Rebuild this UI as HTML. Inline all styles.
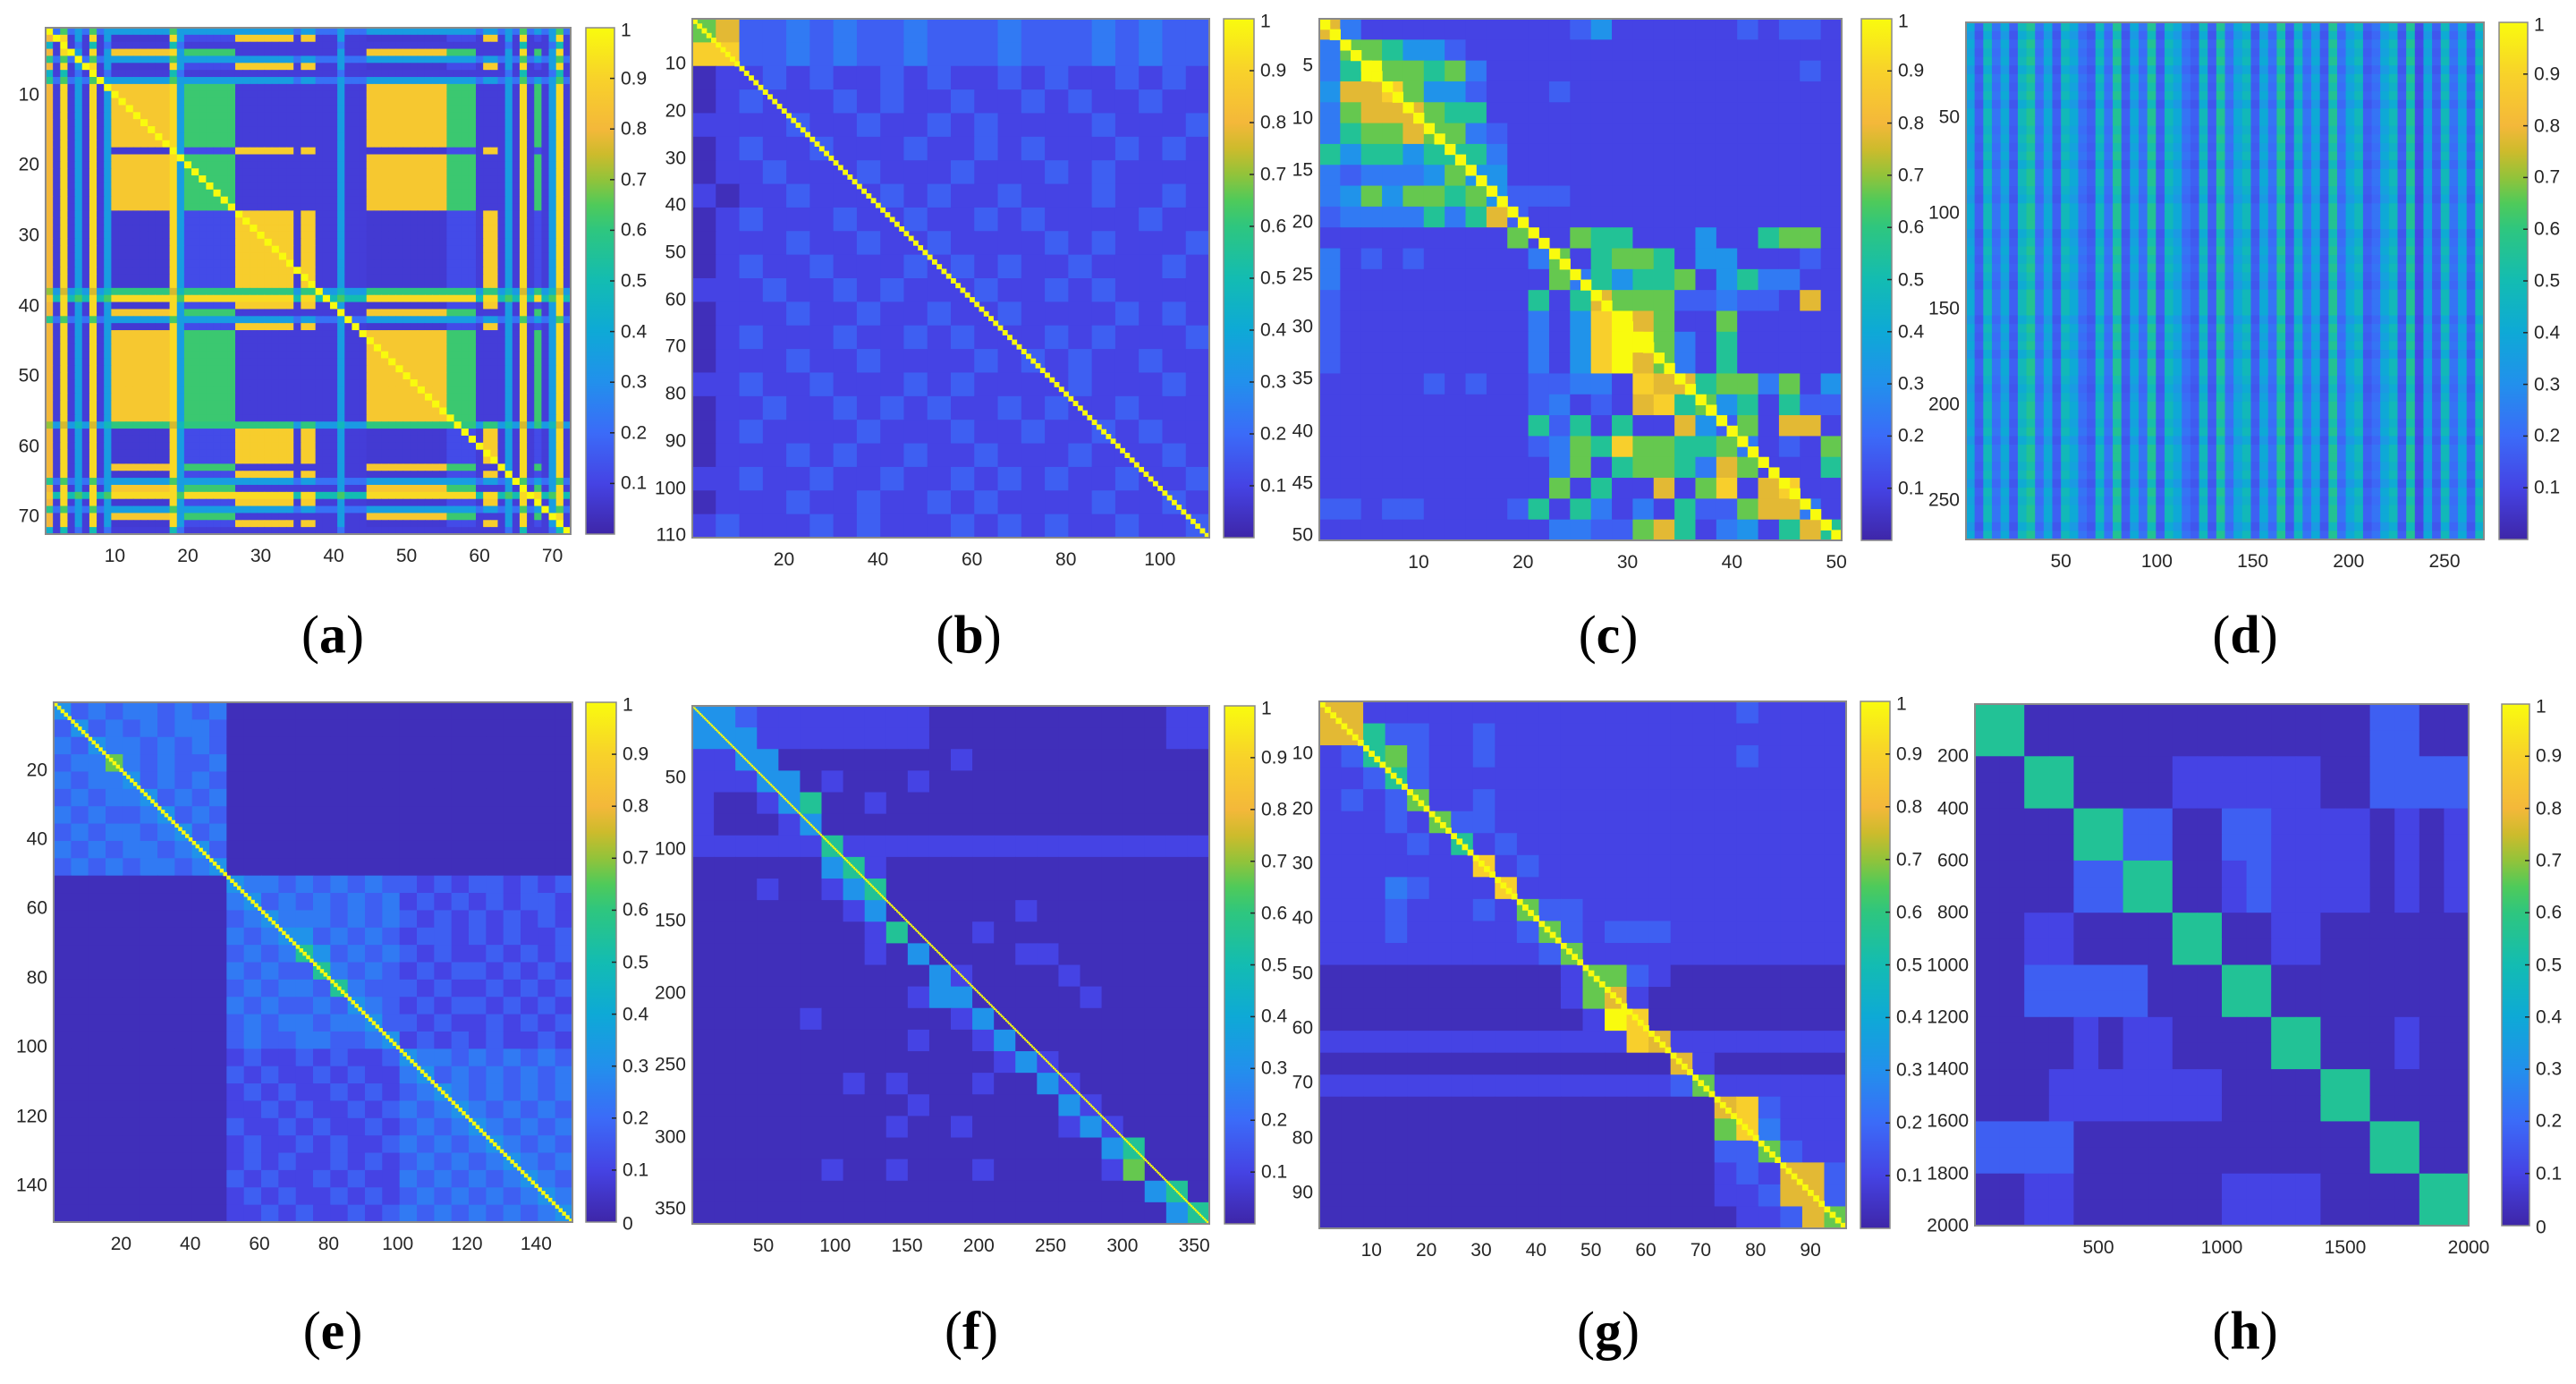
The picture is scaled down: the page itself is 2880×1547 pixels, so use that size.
<!DOCTYPE html>
<html><head><meta charset="utf-8">
<style>
html,body{margin:0;padding:0;background:#fff;}
#root{position:relative;width:2880px;height:1547px;overflow:hidden;background:#fff;font-family:"Liberation Sans",sans-serif;}
.tk{position:absolute;font-size:21px;color:#262626;white-space:nowrap;line-height:1;}
.cap{position:absolute;font-family:"Liberation Serif",serif;font-size:60px;color:#000;transform:translate(-50%,-50%);white-space:nowrap;}
.cap b{font-weight:bold;}
svg{position:absolute;overflow:visible;}
</style></head>
<body>
<div id="root"></div>
<script>
// ---------- colormap ----------
const parulaStops = [[0,'#3e26a8'],[0.1,'#4543e4'],[0.2,'#3b6bf8'],[0.3,'#2290ec'],[0.4,'#0ea9d6'],[0.5,'#13bcb2'],[0.6,'#2ec67f'],[0.65,'#4fca5a'],[0.7,'#92c33a'],[0.75,'#cdbb2c'],[0.8,'#f4b83a'],[0.9,'#f8d22a'],[1,'#f9fb0e']];
function hex2rgb(h){return [parseInt(h.substr(1,2),16),parseInt(h.substr(3,2),16),parseInt(h.substr(5,2),16)];}
function cmap(v){v=Math.max(0,Math.min(1,v));for(let i=1;i<parulaStops.length;i++){if(v<=parulaStops[i][0]){const a=parulaStops[i-1],b=parulaStops[i];const t=(v-a[0])/(b[0]-a[0]);const ca=hex2rgb(a[1]),cb=hex2rgb(b[1]);return 'rgb('+ca.map((x,k)=>Math.round(x+(cb[k]-x)*t)).join(',')+')';}}return parulaStops[parulaStops.length-1][1];}
function dig(ch){const d=parseInt(ch,10);if(isNaN(d))return 0.08;if(d===0)return 0.03;if(d<=4)return 0.03+d*0.07;return d/9;}

// ---------- data: panel a (class structure) ----------
const aColClasses = "onynsnyns"+"AAAAAAAA"+"y"+"s"+"GGGGGGG"+"BBBBBBBB"+"n"+"BB"+"nnn"+"s"+"nnn"+"AAAAAAAAAAA"+"GGGG"+"n"+"BB"+"nsnynGnsyn";
const aRowClasses = "sBnAsBns"+"AAAAAAAAA"+"B"+"AAAAAAAA"+"BBBBBBB"+"B"+"BBB"+"g"+"y"+"B"+"AsB"+"AAAAAAAAAAAAAg"+"BBBBB"+"ABsAyBsABn";
const aRowA = {A:0.86,G:0.62,B:0.08,n:0.08,s:0.35,y:0.92,o:0.8,g:0.6};
const aRowB = {A:0.07,G:0.12,B:0.88,n:0.08,s:0.35,y:0.92,o:0.8,g:0.6};
const aStripe = {s:0.35,g:0.6,y:0.92,o:0.8,n:0.08};

// ---------- data: panel b ----------
const bGrid = ["6722323223222322232322","8822323223222322232322","0112121121211212112121","0121112121121121211211","1111211211212111121112","0121121112112121112121","0112111211121112121111","1011211121211211121121","0121112112112121111211","0111211211211112121112","0121121112121211211121","1112112121112112121111","0111211211211211112121","0121112112121112121112","0111211211112121211211","1121121112121111211121","0112112121211212112111","0121111211121121121211","0111212112112111211121","1121121121121212112112","0111211211212111121121","1211121211121212112112"];
// ---------- data: panel c ----------
const cGrid = ["7311111111112411111121221","3665442111111111111111111","3596656311111111111111121","4778644211121111111111111","3677765511111111111111111","3566766321111111111111111","5455455531111111111111111","3233346441111111111111111","3464665642221111111111111","2333353572111111111111111","1111111116116551114115661","3121211111361566514411121","3111111111163545561453311","2111111111515766622322171","2111111111314897611611111","2111111111314899631511111","2111111111314897631511111","1111121211223318775663614","1111111111231217856451522","1111111111525151174261771","1111111111236586655631216","1111111111136156653761115","1111111111161511716817811","2212211112515313152267731","1111111111133226751341575"];
// ---------- data: panel d (column & row profiles) ----------
const dCols = "536453674536543647354736543637456354736453745634563725364536";
const dRows = "979897989799898979987999789898799979897998789989799897989979";
// ---------- data: panel e ----------
const eGrid = [
"4232332323"+"00000000000000000000","2423232332"+"00000000000000000000","3243323232"+"00000000000000000000","2336323223"+"00000000000000000000","3233423232"+"00000000000000000000","2323342323"+"00000000000000000000","3232234232"+"00000000000000000000","2323323423"+"00000000000000000000","3232332342"+"00000000000000000000","2323233234"+"00000000000000000000",
"0000000000"+"4332323232"+"2121221212","0000000000"+"3423232323"+"1212121221","0000000000"+"2343332323"+"2121212121","0000000000"+"3234423232"+"1221212112","0000000000"+"2323542323"+"2121121212","0000000000"+"3232253232"+"1212212121","0000000000"+"2323325322"+"2121121212","0000000000"+"3232232432"+"1212212121","0000000000"+"2323323342"+"2121121212","0000000000"+"2322332234"+"1212121121",
"0000000000"+"1211212112"+"4332323232","0000000000"+"2121121211"+"3423232323","0000000000"+"1212112121"+"2343232323","0000000000"+"1121211212"+"3234323232","0000000000"+"2112121121"+"2323432323","0000000000"+"1211212112"+"3232343232","0000000000"+"1212112121"+"2323234323","0000000000"+"2121121211"+"3232323432","0000000000"+"1212112121"+"2323232343","0000000000"+"1121211212"+"3232323234"];
// ---------- data: panel f ----------
const fGrid = ["442111111110000000000011","444111111110000000000011","114400000000100000000000","111440100010000000000000","100145001000000000000000","100014000000000000000000","111111511111111111111111","000000451000000000000000","000100145000000000000000","000000014000000100000000","000000001500010000000000","000000001040000110000000","000000000004100001000000","000000000014400000100000","000001000000140000000000","000000000010014000000000","000000000000001410000000","000000010100010041000000","000000000010000004100000","000000000100100001410000","000000000000000000045000","000000100100010000016000","000000000000000000000450","000000000000000000000045"];
// ---------- data: panel g ----------
const gGrid = ["771111111111111111121111","775221121111111111111111","125621121111111111121111","112521111111111111111111","121261121111111111111111","111216221111111111111111","111121512111111111111111","111111181211111111111111","111321118111111111111111","111211121622111111111111","111211111262122211111111","111111111126111111111111","000000000001662100000000","000000000001671000000000","000000000000198000000000","111111111111118711111111","000000000000000071000000","111111111111111126111111","000000000000000000782111","000000000000000000683111","000000000000000000226211","000000000000000000121772","000000000000000000112772","000000000000000000011276"];
// ---------- data: panel h ----------
const hGrid = ["55000000000000002200","55000000000000002200","00550000111111002222","00550000111111002222","00005522002211110101","00005522002211110101","00002255001211110101","00002255001211110101","00110000550011000000","00110000550011000000","00222220005500000000","00222220005500000000","00001011000055000100","00001011000055000100","00011111110000550000","00011111110000550000","22220000000000005500","22220000000000005500","00110000001111000055","00110000001111000055"];

const cbTicks = [0.1,0.2,0.3,0.4,0.5,0.6,0.7,0.8,0.9];
const cbLabels = ["0.1","0.2","0.3","0.4","0.5","0.6","0.7","0.8","0.9"];
const diagValue = 1;

const panels = [
 {id:'a',box:[51,31,638,597],cb:[655,687],N:72,lo:0.5,xt:[10,20,30,40,50,60,70],yt:[10,20,30,40,50,60,70],cap:[372,710],kind:'a',zero:false,diag:false},
 {id:'b',box:[774,21,1352,601],cb:[1368,1402],N:110,lo:0.5,xt:[20,40,60,80,100],yt:[10,20,30,40,50,60,70,80,90,100,110],cap:[1083,710],grid:bGrid,zero:false,diag:true},
 {id:'c',box:[1475,21,2059,604],cb:[2081,2115],N:50,lo:0.5,xt:[10,20,30,40,50],yt:[5,10,15,20,25,30,35,40,45,50],cap:[1798,710],grid:cGrid,zero:false,diag:true},
 {id:'d',box:[2198,25,2777,603],cb:[2794,2826],N:270,lo:0.5,xt:[50,100,150,200,250],yt:[50,100,150,200,250],cap:[2510,710],kind:'d',zero:false,diag:false},
 {id:'e',box:[60,785,640,1366],cb:[655,689],N:150,lo:0.5,xt:[20,40,60,80,100,120,140],yt:[20,40,60,80,100,120,140],cap:[372,1488],grid:eGrid,zero:true,diag:true},
 {id:'f',box:[774,789,1352,1368],cb:[1369,1403],N:360,lo:0.5,xt:[50,100,150,200,250,300,350],yt:[50,100,150,200,250,300,350],cap:[1086,1488],grid:fGrid,zero:false,diag:true},
 {id:'g',box:[1475,784,2064,1373],cb:[2080,2113],N:96,lo:0.5,xt:[10,20,30,40,50,60,70,80,90],yt:[10,20,30,40,50,60,70,80,90],cap:[1798,1488],grid:gGrid,zero:false,diag:true},
 {id:'h',box:[2208,787,2760,1370],cb:[2797,2828],N:2000,lo:0,xt:[500,1000,1500,2000],yt:[200,400,600,800,1000,1200,1400,1600,1800,2000],cap:[2510,1488],grid:hGrid,zero:true,diag:false}
];

const root=document.getElementById('root');
const NS='http://www.w3.org/2000/svg';

function addText(txt,x,y,cls,align){
 const d=document.createElement('div');
 d.className=cls;d.textContent=txt;root.appendChild(d);
 d.style.left=x+'px';d.style.top=y+'px';
 if(align==='right')d.style.transform='translate(-100%,-50%)';
 else if(align==='center')d.style.transform='translate(-50%,0)';
 else d.style.transform='translate(0,-50%)';
 return d;
}

panels.forEach(p=>{
 const [x0,y0,x1,y1]=p.box, W=x1-x0, H=y1-y0;
 const hi=p.lo+p.N;
 const sx=v=>x0+(v-p.lo)/(hi-p.lo)*W;
 const sy=v=>y0+(v-p.lo)/(hi-p.lo)*H;
 const svg=document.createElementNS(NS,'svg');
 svg.setAttribute('width',W);svg.setAttribute('height',H);
 svg.style.left=x0+'px';svg.style.top=y0+'px';
 
 
 root.appendChild(svg);
 function cell(ux0,uy0,uw,uh,v,name){
  const r=document.createElementNS(NS,'rect');
  r.setAttribute('x',(sx(ux0)-x0).toFixed(2));r.setAttribute('y',(sy(uy0)-y0).toFixed(2));
  r.setAttribute('width',(uw/(hi-p.lo)*W+0.6).toFixed(2));r.setAttribute('height',(uh/(hi-p.lo)*H+0.6).toFixed(2));
  r.setAttribute('fill',cmap(v));
  
  
  svg.appendChild(r);
 }
 if(p.kind==='a'){
  for(let i=0;i<aRowClasses.length;i++)for(let j=0;j<aColClasses.length;j++){
   const rc=aRowClasses[i],cc=aColClasses[j];let v;
   if(rc==='A')v=aRowA[cc];else if(rc==='B')v=aRowB[cc];
   else{const rv=aStripe[rc];v=(cc in aStripe)?(rv+aStripe[cc])/2:rv;}
   if(i===j)v=1;
   cell(p.lo+j,p.lo+i,1,1,v,'cell');
  }
 } else if(p.kind==='d'){
  const nc=dCols.length,nr=dRows.length,uw=p.N/nc,uh=p.N/nr;
  for(let i=0;i<nr;i++)for(let j=0;j<nc;j++){
   const v=0.8*dig(dCols[j])*(0.3+0.6*dig(dRows[i]));
   cell(p.lo+j*uw,p.lo+i*uh,uw,uh,v,'cell');
  }
 } else {
  const g=p.grid,nr=g.length,nc=g[0].length,uw=p.N/nc,uh=p.N/nr;
  for(let i=0;i<nr;i++)for(let j=0;j<nc;j++){
   cell(p.lo+j*uw,p.lo+i*uh,uw,uh,dig(g[i][j]||'1'),'cell');
  }
 }
 if(p.diag){
  for(let i=0;i<p.N;i++){cell(p.lo+i,p.lo+i,1,1,diagValue,'diagonal-cell');}
 }
 const border=document.createElementNS(NS,'rect');
 border.setAttribute('x',0);border.setAttribute('y',0);border.setAttribute('width',W);border.setAttribute('height',H);
 border.setAttribute('fill','none');border.setAttribute('stroke','#8a8a8a');border.setAttribute('stroke-width','2');
 
 svg.appendChild(border);
 p.xt.forEach(t=>{const x=sx(t);const d=addText(String(t),x,y1+14,'tk','center');
  });
 p.yt.forEach(t=>{const y=sy(t);const d=addText(String(t),x0-7,y,'tk','right');
  });
 const [c0,c1]=p.cb;
 const cbs=document.createElementNS(NS,'svg');
 cbs.setAttribute('width',c1-c0);cbs.setAttribute('height',y1-y0);
 cbs.style.left=c0+'px';cbs.style.top=y0+'px';
 
 const gid='grad'+p.id;
 let defs='<defs><linearGradient id="'+gid+'" x1="0" y1="1" x2="0" y2="0">';
 parulaStops.forEach(s=>{defs+='<stop offset="'+s[0]+'" stop-color="'+s[1]+'"/>';});
 defs+='</linearGradient></defs><rect x="0" y="0" width="'+(c1-c0)+'" height="'+(y1-y0)+'" fill="url(#'+gid+')" stroke="#8a8a8a" stroke-width="1.5"/>';
 cbs.innerHTML=defs;
 const cby=v=>y1-v*(y1-y0);
 cbTicks.forEach(v=>{const l=document.createElementNS(NS,'line');
  l.setAttribute('x1',c1-c0-5);l.setAttribute('x2',c1-c0);l.setAttribute('y1',cby(v)-y0);l.setAttribute('y2',cby(v)-y0);
  l.setAttribute('stroke','#262626');l.setAttribute('stroke-width','1.5');
  cbs.appendChild(l);});
 root.appendChild(cbs);
 cbTicks.forEach((v,k)=>{const d=addText(cbLabels[k],c1+7,cby(v),'tk','left');
  });
 const one=addText('1',c1+7,y0+3,'tk','left');
 
 if(p.zero){const z=addText('0',c1+7,y1+2,'tk','left');
  }
 const cap=document.createElement('div');cap.className='cap';
 cap.innerHTML='(<b>'+p.id+'</b>)';
 cap.style.left=p.cap[0]+'px';cap.style.top=p.cap[1]+'px';
 
 root.appendChild(cap);
});
</script>
</body></html>
